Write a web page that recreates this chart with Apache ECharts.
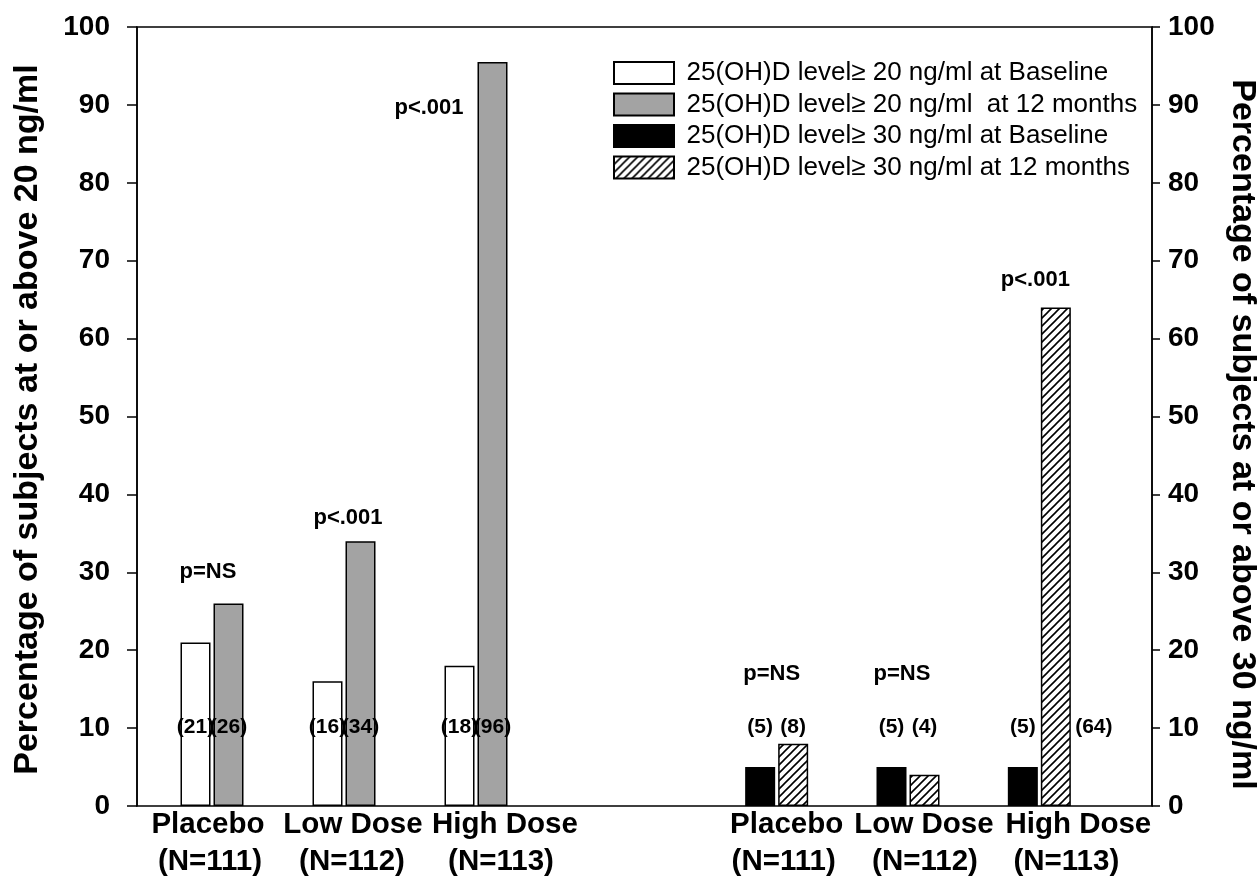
<!DOCTYPE html>
<html><head><meta charset="utf-8">
<script src="https://cdn.jsdelivr.net/npm/echarts@6/dist/echarts.min.js"></script>
<style>html,body{margin:0;padding:0;background:#fff}#c{width:1259px;height:877px}</style>
</head><body><div id="c"></div>
<script>
// ---------- data ----------
const groups = ['Placebo', 'Low Dose', 'High Dose'];
const groupN = ['(N=111)', '(N=112)', '(N=113)'];
const seriesNames = [
  '25(OH)D level\u2265 20 ng/ml at Baseline',
  '25(OH)D level\u2265 20 ng/ml  at 12 months',
  '25(OH)D level\u2265 30 ng/ml at Baseline',
  '25(OH)D level\u2265 30 ng/ml at 12 months'
];
const base20 = [21, 16, 18];
const m12_20 = [26, 34, 95.5];
const base30 = [5, 5, 5];
const m12_30 = [8, 4, 64];
const countBase20 = ['(21)', '(16)', '(18)'];
const count12_20 = ['(26)', '(34)', '(96)'];
const countBase30 = ['(5)', '(5)', '(5)'];
const count12_30 = ['(8)', '(4)', '(64)'];
const pLeft = ['p=NS', 'p<.001', 'p<.001'];
const pLeftY = [30, 37, 89.6];
const pRight = ['p=NS', 'p=NS', 'p<.001'];
const pRightY = [17, 17, 67.5];

// ---------- layout helpers (pixel nudges, not data) ----------
const pLeftDx = [-4, 4, -47];
const pRightDx = [-5, -6, -4];
const catDxLeft = { top: [-4, 9, 29], bottom: [-2, 8, 25] };
const catDxRight = { top: [10, 16, 39], bottom: [7, 17, 27] };
const FONT = '"Liberation Sans", Arial, sans-serif';

function hatch() {
  const s = 8;
  const c = document.createElement('canvas');
  c.width = s; c.height = s;
  const g = c.getContext('2d');
  g.fillStyle = '#fff'; g.fillRect(0, 0, s, s);
  g.strokeStyle = '#000'; g.lineWidth = 1.6;
  g.beginPath();
  g.moveTo(-2, s + 2); g.lineTo(s + 2, -2);
  g.moveTo(-2, 2); g.lineTo(2, -2);
  g.moveTo(s - 2, s + 2); g.lineTo(s + 2, s - 2);
  g.stroke();
  return c;
}

const countLabel = (texts) => ({
  show: true, position: 'insideBottom', distance: 0, offset: [0, -68],
  color: '#000', fontFamily: FONT, fontWeight: 'bold', fontSize: 21,
  formatter: p => texts[p.dataIndex]
});

function barSeries(name, vals, texts, xi, color, extraOffset) {
  return {
    name, type: 'bar', xAxisIndex: xi, yAxisIndex: xi + 1,
    barWidth: 30, barGap: '10%',
    itemStyle: { color, borderColor: '#000', borderWidth: 1.5 },
    label: countLabel(texts),
    data: vals.map((v, i) => (extraOffset && extraOffset[i])
      ? { value: v, label: { offset: extraOffset[i] } } : v)
  };
}

function pSeries(ys, texts, dx, xi) {
  return {
    type: 'scatter', xAxisIndex: xi, yAxisIndex: xi + 1,
    symbolSize: 1, itemStyle: { color: '#fff', opacity: 1 }, silent: true, z: 5,
    label: {
      show: true, position: 'inside', color: '#000', opacity: 1, fontFamily: FONT,
      fontWeight: 'bold', fontSize: 22, textBorderWidth: 0,
      formatter: p => texts[p.dataIndex]
    },
    data: ys.map((y, i) => ({ value: [i, y], label: { offset: [dx[i], 0] } }))
  };
}

function padFor(dx) {
  return dx >= 0 ? [0, 0, 0, 2 * dx] : [0, -2 * dx, 0, 0];
}

const catAxis = (gi, dxs) => {
  const rich = {};
  for (let i = 0; i < groups.length; i++) {
    rich['t' + i] = { fontFamily: FONT, fontWeight: 'bold', fontSize: 29.5, lineHeight: 37, color: '#000', padding: padFor(dxs.top[i]) };
    rich['b' + i] = { fontFamily: FONT, fontWeight: 'bold', fontSize: 29.5, lineHeight: 38, color: '#000', padding: padFor(dxs.bottom[i]) };
  }
  return {
    gridIndex: gi, type: 'category', data: groups,
    axisLine: { show: false }, axisTick: { show: false },
    axisLabel: {
      interval: 0, margin: 0, color: '#000', hideOverlap: false,
      formatter: (v, i) => '{t' + i + '|' + v + '}\n{b' + i + '|' + groupN[i] + '}',
      rich
    }
  };
};

const valAxis = (pos, tickLen, margin, name, gap, rot, namePad) => ({
  gridIndex: 0, type: 'value', position: pos, min: 0, max: 100, interval: 10,
  axisLine: { show: true, lineStyle: { color: '#000', width: 1.5 } },
  axisTick: { show: true, length: tickLen, lineStyle: { color: '#000', width: 1.5 } },
  splitLine: { show: false },
  axisLabel: { margin, color: '#000', fontFamily: FONT, fontWeight: 'bold', fontSize: 28 },
  name, nameLocation: 'middle', nameGap: gap, nameRotate: rot,
  nameTextStyle: { color: '#000', fontFamily: FONT, fontWeight: 'bold', fontSize: 34, padding: namePad }
});

const option = {
  animation: false,
  backgroundColor: '#fff',
  grid: [
    { left: 137, right: 107, top: 27, bottom: 71, show: true, borderColor: '#000', borderWidth: 1.5, backgroundColor: 'rgba(0,0,0,0)', containLabel: false, outerBoundsMode: 'none' },
    { left: 146, width: 396, top: 27, bottom: 71, containLabel: false, outerBoundsMode: 'none' },
    { left: 711, width: 394, top: 27, bottom: 71, containLabel: false, outerBoundsMode: 'none' }
  ],
  legend: {
    left: 613, top: 60, orient: 'vertical', itemWidth: 60, itemHeight: 22, itemGap: 5.5,
    padding: 0, icon: 'rect',
    data: seriesNames, selectedMode: false,
    textStyle: { color: '#000', fontFamily: FONT, fontSize: 26, lineHeight: 22, padding: [0, 0, 0, 7.5] }
  },
  xAxis: [
    { gridIndex: 0, type: 'value', show: false, min: 0, max: 1 },
    catAxis(1, catDxLeft),
    catAxis(2, catDxRight)
  ],
  yAxis: [
    valAxis('left', 10, 27, 'Percentage of subjects at or above 20 ng/ml', 92, 90, [0, 6, 0, 0]),
    valAxis('right', 8, 16, 'Percentage of subjects at or above 30 ng/ml', 64, -90, [0, 0, 0, 36]),
    { gridIndex: 1, type: 'value', min: 0, max: 100, show: false },
    { gridIndex: 2, type: 'value', min: 0, max: 100, show: false }
  ],
  series: [
    barSeries(seriesNames[0], base20, countBase20, 1, '#ffffff'),
    barSeries(seriesNames[1], m12_20, count12_20, 1, '#a3a3a3'),
    barSeries(seriesNames[2], base30, countBase30, 2, '#000000'),
    barSeries(seriesNames[3], m12_30, count12_30, 2, { image: hatch(), repeat: 'repeat' }, [null, null, [38, -68]]),
    pSeries(pLeftY, pLeft, pLeftDx, 1),
    pSeries(pRightY, pRight, pRightDx, 2)
  ]
};

const chart = echarts.init(document.getElementById('c'), null, { renderer: 'canvas' });
chart.setOption(option);
</script>
</body></html>
